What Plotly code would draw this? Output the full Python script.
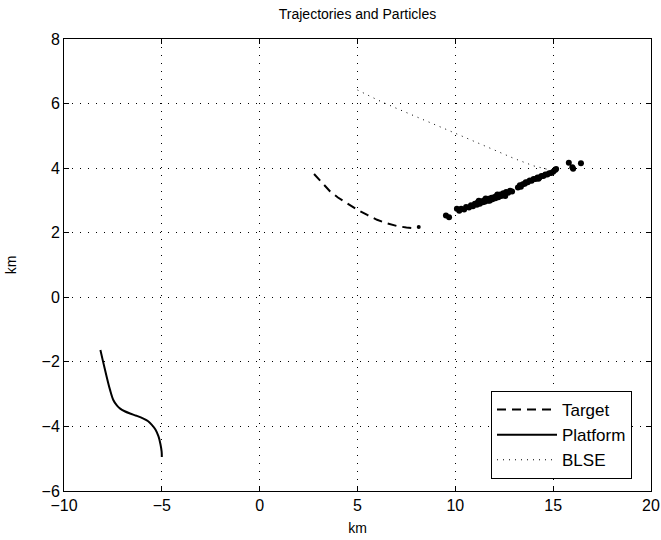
import plotly.graph_objects as go

# Target trajectory (km)
target_x = [2.78, 3.2, 3.6, 4.0, 4.5, 5.0, 5.5, 6.0, 6.5, 7.0, 7.5, 7.9]
target_y = [3.82, 3.54, 3.28, 3.09, 2.89, 2.71, 2.55, 2.40, 2.29, 2.21, 2.16, 2.14]
target_end_x = [8.13]
target_end_y = [2.18]

# Platform trajectory (km)
platform_x = [-8.14, -8.0, -7.82, -7.65, -7.48, -7.3, -7.13, -6.9, -6.62, -6.3, -5.94, -5.7, -5.51, -5.32, -5.17, -5.07, -5.01, -5.0]
platform_y = [-1.63, -2.0, -2.46, -2.86, -3.18, -3.35, -3.45, -3.53, -3.60, -3.67, -3.76, -3.84, -3.95, -4.10, -4.31, -4.55, -4.78, -4.95]

# BLSE trajectory (km)
blse_x = [5.0, 6.0, 7.0, 8.0, 9.0, 10.0, 11.0, 12.0, 13.0, 14.0, 15.0]
blse_y = [6.42, 6.12, 5.85, 5.60, 5.33, 5.08, 4.82, 4.56, 4.30, 4.07, 3.92]

# Particles (km)
particle_x = [9.52, 9.68, 10.08, 10.2, 10.3, 10.45, 10.55, 10.7, 10.8, 10.9, 11.0, 11.1, 11.15,
              11.25, 11.3, 11.4, 11.45, 11.5, 11.6, 11.65, 11.7, 11.8, 11.85, 11.9, 12.0, 12.05,
              12.1, 12.2, 12.3, 12.35, 12.45, 12.5, 12.6, 12.7, 12.8, 12.9, 13.2, 13.3, 13.35,
              13.45, 13.55, 13.6, 13.7, 13.8, 13.9, 14.0, 14.1, 14.2, 14.3, 14.4, 14.5, 14.6,
              14.7, 14.8, 14.9, 15.0, 15.1, 15.15, 15.8, 15.98, 16.02, 16.42,
              11.2, 11.55, 11.75, 12.15, 12.55, 14.25]
particle_y = [2.53, 2.48, 2.74, 2.68, 2.74, 2.72, 2.80, 2.78, 2.85, 2.82, 2.90, 2.87, 2.94,
              2.90, 2.97, 2.94, 3.00, 2.96, 3.02, 2.99, 3.05, 3.02, 3.08, 3.04, 3.11, 3.07,
              3.14, 3.10, 3.18, 3.14, 3.22, 3.18, 3.26, 3.24, 3.30, 3.28, 3.40, 3.47, 3.42,
              3.50, 3.52, 3.56, 3.56, 3.62, 3.61, 3.66, 3.66, 3.71, 3.71, 3.76, 3.76, 3.80,
              3.80, 3.84, 3.85, 3.89, 3.94, 3.97, 4.17, 4.03, 3.98, 4.15,
              2.99, 3.06, 2.99, 3.18, 3.14, 3.67]

x_ticks = [-10, -5, 0, 5, 10, 15, 20]
y_ticks = [-6, -4, -2, 0, 2, 4, 6, 8]

FONT = "Liberation Sans, Arial, Helvetica, sans-serif"


def fmt(v):
    return ("\u2212" + str(-v)) if v < 0 else str(v)


fig = go.Figure()
fig.add_trace(go.Scatter(x=target_x, y=target_y, mode="lines", name="Target",
                         line=dict(color="black", width=2, dash="9px,6px")))
fig.add_trace(go.Scatter(x=platform_x, y=platform_y, mode="lines", name="Platform",
                         line=dict(color="black", width=2, shape="spline")))
fig.add_trace(go.Scatter(x=blse_x, y=blse_y, mode="lines", name="BLSE",
                         line=dict(color="black", width=1, dash="1px,5px")))
fig.add_trace(go.Scatter(x=target_end_x, y=target_end_y, mode="markers", showlegend=False,
                         marker=dict(color="black", size=4)))
fig.add_trace(go.Scatter(x=particle_x, y=particle_y, mode="markers", showlegend=False,
                         marker=dict(color="black", size=6)))

axis_common = dict(
    showline=True, linecolor="black", linewidth=1, mirror="ticks",
    ticks="inside", ticklen=5, tickcolor="black",
    showgrid=True, gridcolor="black", gridwidth=1, griddash="1px,7px",
    zeroline=False, automargin=False,
    tickfont=dict(family=FONT, size=16, color="black"),
)

fig.update_layout(
    width=661, height=540,
    margin=dict(l=64, r=10, t=39, b=49),
    paper_bgcolor="white", plot_bgcolor="white",
    font=dict(family=FONT, size=14, color="black"),
    title=dict(text="Trajectories and Particles", xref="paper", x=0.5, xanchor="center",
               y=1 - 14 / 540, yanchor="middle", font=dict(family=FONT, size=14)),
    xaxis=dict(range=[-10, 20], tickvals=x_ticks, ticktext=[fmt(v) for v in x_ticks],
               title=dict(text="km", standoff=9, font=dict(size=14)), **axis_common),
    yaxis=dict(range=[-6, 8], tickvals=y_ticks, ticktext=[fmt(v) for v in y_ticks],
               title=dict(text="km", standoff=21, font=dict(size=14)), **axis_common),
    legend=dict(x=(632 - 64) / 587, y=(491 - 391) / 452, xanchor="right", yanchor="top",
                bordercolor="black", borderwidth=1, bgcolor="white",
                font=dict(family=FONT, size=17), tracegroupgap=0, itemwidth=60),
    showlegend=True,
)

fig.write_html("out.html", config={"displayModeBar": False},
               post_script="document.body.style.margin='0';document.body.style.padding='0';")
